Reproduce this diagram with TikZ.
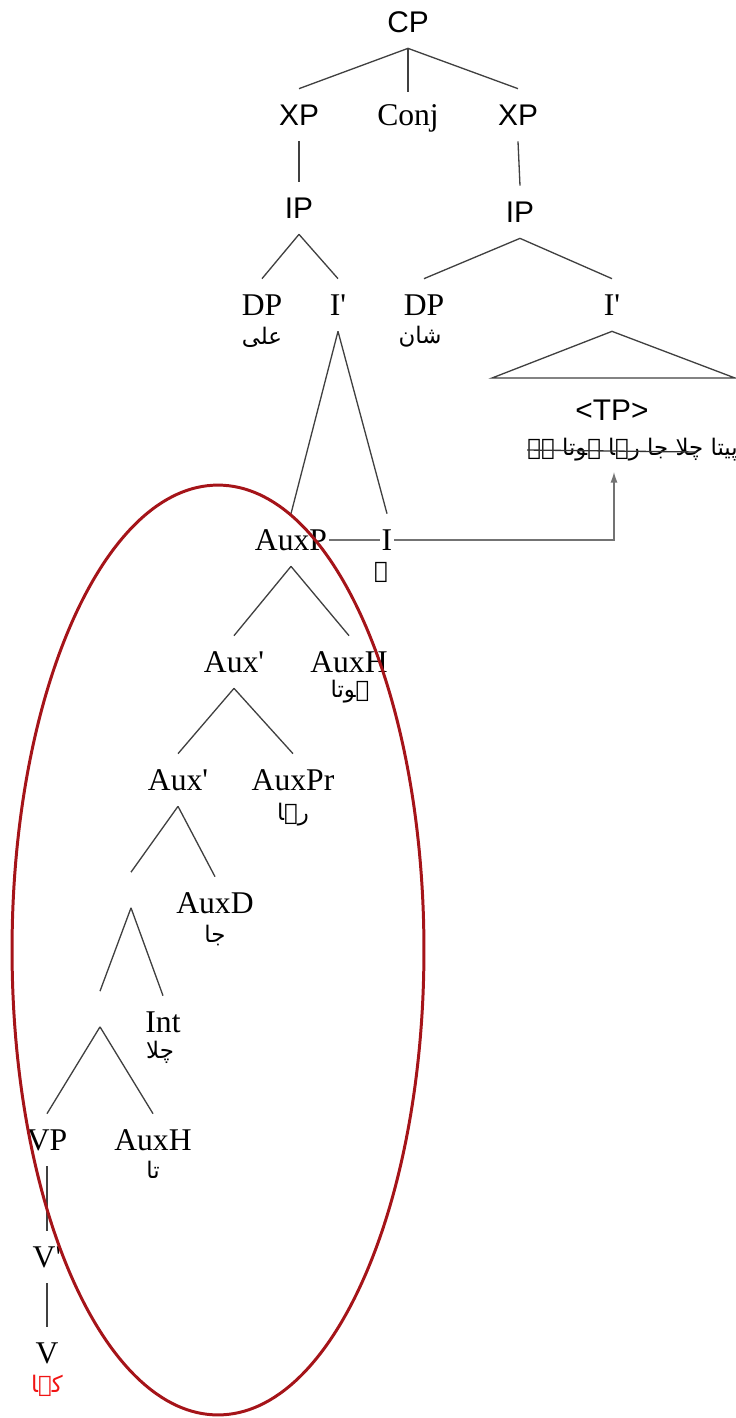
\documentclass[tikz,border=0pt]{standalone}
\usepackage{fontspec}
\setmainfont{Liberation Serif}
\setsansfont{Liberation Sans}
\newfontfamily\urdufont[Script=Arabic]{DejaVu Sans}
\TeXXeTstate=1
\usetikzlibrary{arrows.meta}
\definecolor{ringred}{RGB}{165,20,25}
\definecolor{urdured}{RGB}{240,20,20}

\begin{document}
\begin{tikzpicture}[
		x=0.02cm, y=-0.02cm,
		cat/.style={font=\fontsize{18}{21}\selectfont, inner sep=1pt, minimum height=1.04cm},
		sans cat/.style={cat, font=\sffamily\fontsize{17}{20}\selectfont},
		hole/.style={inner sep=0pt, minimum height=0.7cm},
		urdu/.style={font=\urdufont\fontsize{13}{15}\selectfont, inner sep=0pt},
		branch/.style={draw=black!75, line width=0.75pt},
		link/.style={draw=black!55, line width=0.7pt},
		ring/.style={draw=ringred, line width=1.7pt}
		]
		\useasboundingbox (0,0) rectangle (736,1418);
		
		% =========================================================
		% Top: CP and the two conjuncts
		% =========================================================
		\node[sans cat] (cp) at (408,22) {CP};
		\node[sans cat] (xpl) at (299,115) {XP};
		\node[cat] (conj) at (408,118) {Conj};
		\node[sans cat] (xpr) at (518,115) {XP};
		\node[sans cat] (ipl) at (299,208) {IP};
		\node[sans cat] (ipr) at (520,212) {IP};
		
		% Subjects and I'
		\node[cat] (dpl) at (262,305) {DP};
		\node[urdu] (ali) at (262,337) {\beginR علی\endR};
		\node[cat] (ibl) at (338,305) {I\textquotesingle};
		\node[cat] (dpr) at (424,305) {DP};
		\node[urdu] (shan) at (420,337) {\beginR شان\endR};
		\node[cat] (ibr) at (612,305) {I\textquotesingle};
		
		% Right I' as a triangle over the elided TP
		\coordinate (tri l) at (492,378);
		\coordinate (tri r) at (735,378);
		\draw[branch] (ibr.south) -- (tri l) -- (tri r) -- cycle;
		\node[sans cat] (tp) at (612,410) {<TP>};
		\node[urdu, anchor=east] (tpu) at (738,450) {\beginR پیتا چلا جا رہا ہوتا ہے\endR};
		\coordinate (strike end) at (697,452);
		\draw[branch, black!80] (tpu.west) -- (strike end);
		
		% =========================================================
		% Left I': the auxiliary chain
		% =========================================================
		\node[cat] (auxp) at (291,540) {AuxP};
		\node[cat] (i) at (387,540) {I};
		\node[urdu] (ye) at (381,572) {\beginR ے\endR};
		
		\node[cat] (auxbar1) at (234,662) {Aux\textquotesingle};
		\node[cat] (auxh1) at (349,662) {AuxH};
		\node[urdu] (hota) at (350,692) {\beginR ہوتا\endR};
		
		\node[cat] (auxbar2) at (178,780) {Aux\textquotesingle};
		\node[cat] (auxpr) at (293,780) {AuxPr};
		\node[urdu] (raha) at (293,815) {\beginR رہا\endR};
		
		\node[hole] (hole1) at (131,890) {};
		\node[cat] (auxd) at (215,903) {AuxD};
		\node[urdu] (ja) at (215,935) {\beginR جا\endR};
		
		\node[hole] (hole2) at (100,1009) {};
		\node[cat] (int) at (163,1022) {Int};
		\node[urdu] (chala) at (160,1052) {\beginR چلا\endR};
		
		\node[cat] (vp) at (47,1140) {VP};
		\node[cat] (auxh2) at (153,1140) {AuxH};
		\node[urdu] (ta) at (153,1170) {\beginR تا\endR};
		
		\node[cat] (vbar) at (47,1257) {V\textquotesingle};
		\node[cat] (v) at (47,1353) {V};
		\node[urdu, urdured] (kaha) at (47,1386) {\beginR کہا\endR};
		
		% Branches
		\foreach \a/\b in {cp/xpl, cp/conj, cp/xpr, xpl/ipl, xpr/ipr,
			ipl/dpl, ipl/ibl, ipr/dpr, ipr/ibr, ibl/auxp, ibl/i,
			auxp/auxbar1, auxp/auxh1, auxbar1/auxbar2, auxbar1/auxpr,
			auxbar2/hole1, auxbar2/auxd, hole1/hole2, hole1/int,
			hole2/vp, hole2/auxh2, vp/vbar, vbar/v} {
			\draw[branch] (\a.south) -- (\b.north);
		}
		
		% Movement of I to the elided TP
		\coordinate (arrow tip) at (614,472);
		\draw[link] (auxp.east) -- (i.west);
		\draw[link, -{Latex[length=6pt, width=4pt]}] (i.east) -| (arrow tip);
		
		% Circled auxiliary chain
		\draw[ring] (218,950) ellipse [x radius=4.12cm, y radius=9.3cm];
		
	\end{tikzpicture}
\end{document}
